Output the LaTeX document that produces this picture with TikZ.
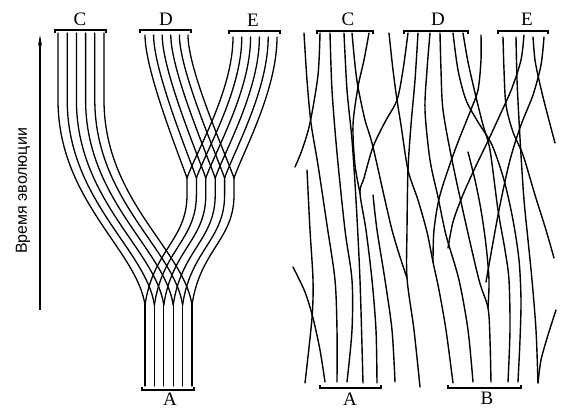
\documentclass[tikz,border=0pt]{standalone}
\usepackage{fontspec}
\setmainfont{Liberation Serif}
\newfontfamily\labsans{Liberation Sans}
\usetikzlibrary{arrows.meta}
\begin{document}
\begin{tikzpicture}[x=1pt,y=-1pt]
\tikzset{
  lstrand/.style={line width=1.3pt, line cap=round},
  rstrand/.style={line width=1.4pt, line cap=round},
  bracketline/.style={line width=1.2pt},
  lab/.style={font=\fontsize{19}{19}\selectfont, inner sep=0pt},
  timelab/.style={font=\labsans\fontsize{16}{16}\selectfont, inner sep=0pt, rotate=90},
}
\useasboundingbox (0,0) rectangle (566,408);
\fill[white] (0,0) rectangle (566,408);

% time axis
\node[timelab] (time) at (23,191) {Время эволюции};
\coordinate (arrB) at (40,310);
\coordinate (arrT) at (40,35);
\draw[line width=1.2pt, -{Stealth[length=11pt,width=4pt]}] (arrB) -- (arrT);

% ---------- left panel ----------
\draw[bracketline] (55,33) -- (55,30) -- (106,30) -- (106,33);
\draw[bracketline] (140,33) -- (140,30) -- (191,30) -- (191,33);
\draw[bracketline] (229,34) -- (229,31) -- (280,31) -- (280,34);
\draw[bracketline] (142,387) -- (142,390) -- (194,390) -- (194,387);
\node[lab] (lC) at (80,19) {C};
\node[lab] (lD) at (166,19) {D};
\node[lab] (lE) at (253,20) {E};
\node[lab] (lA) at (170,399) {A};

\foreach \i in {0,...,5} {
  \pgfmathsetmacro\xa{145+9.4*\i}
  \pgfmathsetmacro\xc{58+9.2*\i}
  \pgfmathsetmacro\xm{187+9.4*\i}
  \pgfmathsetmacro\xd{145+8.6*\i}
  \pgfmathsetmacro\xe{233+8.8*\i}
  \draw[lstrand] (\xa,386) -- (\xa,305);
  \draw[lstrand] (\xc,33) -- (\xc,100) .. controls (\xc,200) and (\xa-8,250) .. (\xa,305);
  \draw[lstrand] (\xa,305) .. controls (\xa+8,250) and (\xm,240) .. (\xm,195) -- (\xm,178);
  \draw[lstrand] (\xd,35) .. controls (\xd,70) and (\xm-10,150) .. (\xm,178);
  \draw[lstrand] (\xe,37) .. controls (\xe,90) and (\xm+10,150) .. (\xm,178);
}

% ---------- right panel ----------
\draw[bracketline] (317,34) -- (317,31) -- (373,31) -- (373,34);
\draw[bracketline] (404,34) -- (404,31) -- (468,31) -- (468,34);
\draw[bracketline] (498,34) -- (498,31) -- (548,31) -- (548,34);
\draw[bracketline] (320,385) -- (320,388) -- (381,388) -- (381,385);
\draw[bracketline] (448,385) -- (448,388) -- (521,388) -- (521,385);
\node[lab] (rC) at (348,19) {C};
\node[lab] (rD) at (438,19) {D};
\node[lab] (rE) at (527,19) {E};
\node[lab] (rA) at (350,399) {A};
\node[lab] (rB) at (487,398) {B};

\begin{scope}[rstrand]
\draw plot[smooth] coordinates {(304,33) (307,80) (311,123) (318,165) (327,225) (335,280) (337,330) (337,382)};
\draw plot[smooth] coordinates {(320,33) (318,75) (310,123) (302,150) (295,167)};
\draw plot[smooth] coordinates {(307,170) (310,230) (313,280) (312,318) (305,383)};
\draw plot[smooth] coordinates {(293,267) (305,292) (313,318) (320,350) (325,382)};
\draw plot[smooth] coordinates {(330,33) (332,90) (337,153) (345,230) (352,280) (352,330) (347,382)};
\draw plot[smooth] coordinates {(344,33) (347,90) (352,140) (356,200) (360,280) (363,383)};
\draw plot[smooth] coordinates {(369,33) (364,60) (358,87) (353,125) (355,165) (360,193)};
\draw plot[smooth] coordinates {(352,33) (355,65) (358,87) (365,120) (373,147) (392,230) (407,278)};
\draw plot[smooth] coordinates {(408,33) (403,70) (397,100) (385,122) (373,147) (364,178) (360,193) (366,230) (372,280) (376,330) (377,383)};
\draw plot[smooth] coordinates {(373,195) (377,230) (385,280) (392,330) (395,382)};
\draw plot[smooth] coordinates {(389,33) (393,70) (397,100) (401,125) (408,170) (418,200) (427,232) (433,262) (439,290) (446,330) (453,383)};
\draw plot[smooth] coordinates {(418,33) (415,80) (411,125) (408,170) (407,230) (407,278) (414,330) (420,387)};
\draw plot[smooth] coordinates {(430,33) (427,70) (425,110) (430,160) (438,197) (446,235) (459,280) (468,330) (473,382)};
\draw plot[smooth] coordinates {(440,33) (441,70) (443,110) (452,160) (465,220) (479,280) (488,308) (490,340) (491,382)};
\draw plot[smooth] coordinates {(481,35) (481,60) (478,90) (470,112) (455,150) (440,195) (434,230) (433,262)};
\draw plot[smooth] coordinates {(453,33) (458,70) (466,100) (478,122) (492,145) (504,180) (513,220) (519,260) (521,300) (520,340) (518,382)};
\draw plot[smooth] coordinates {(463,33) (468,62) (476,97) (483,125) (490,150) (498,210) (505,250) (509,280) (510,330) (508,382)};
\draw plot[smooth] coordinates {(468,152) (475,180) (481,210) (486,245) (489,280) (488,308)};
\draw plot[smooth] coordinates {(503,37) (504,70) (506,105) (513,132) (523,155) (535,195) (546,230) (554,258)};
\draw plot[smooth] coordinates {(516,37) (517,80) (519,120) (521,155) (524,200) (528,240) (532,280) (536,330) (538,383)};
\draw plot[smooth] coordinates {(524,35) (521,60) (512,88) (500,115) (487,143) (474,170) (462,197) (453,222) (448,248)};
\draw plot[smooth] coordinates {(533,37) (535,60) (539,80) (545,105) (555,143)};
\draw plot[smooth] coordinates {(544,37) (541,65) (533,95) (521,125) (510,160) (500,205) (492,248) (486,282)};
\draw plot[smooth] coordinates {(556,310) (548,335) (541,360) (538,383)};
\end{scope}
\end{tikzpicture}
\end{document}
